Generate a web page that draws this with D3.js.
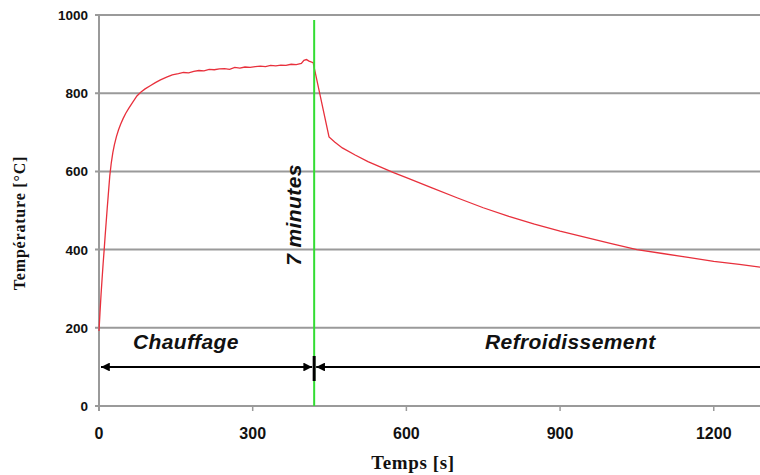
<!DOCTYPE html>
<html><head><meta charset="utf-8">
<script src="https://cdn.jsdelivr.net/npm/d3@7"></script>
<style>html,body{margin:0;padding:0;background:#fff;overflow:hidden}</style>
</head><body>
<svg id="c" width="760" height="475"></svg>
<script>
// Data (time in s, temperature in °C)
const timeValues = [0,2,4,6,8,10,12,14,16,18,21,24,27,30,34,38,42,47,52,58,65,74,82,90,100,110,120,132,143,155,165,175,185,195,205,215,225,235,245,255,265,275,285,295,305,315,325,335,345,355,365,375,385,395,400,405,410,418,
  449,460,475,500,525,550,575,600,650,700,750,800,850,900,950,1000,1050,1100,1150,1200,1250,1291];
const tempValues = [192,240,285,325,363,398,435,470,505,538,588,622,648,668,689,706,720,735,748,761,775,793,803,811,819,827,834,841,847,850,853,852,856,858,857,861,860,862,863,861,866,864,867,866,868,869,868,871,870,872,871,874,873,876,884,886,882,878,
  688,675,660,642,625,611,597,584,558,532,507,485,465,447,431,415,400,390,380,370,362,355];
const yTicks = [0,200,400,600,800,1000];
const xTicks = [0,300,600,900,1200];
const markerTime = 420;
const labels = {y:"Température [°C]", x:"Temps [s]", marker:"7 minutes", left:"Chauffage", right:"Refroidissement"};

const svg = d3.select("#c");
const x = d3.scaleLinear().domain([0,1300]).range([99, 99+1300*0.5123]);
const y = d3.scaleLinear().domain([0,1000]).range([406, 15]);

// grid lines
svg.append("g").selectAll("line").data(yTicks).join("line")
  .attr("x1",95).attr("x2",760).attr("y1",d=>y(d)).attr("y2",d=>y(d))
  .attr("stroke","#9a9a9a").attr("stroke-width",2);

// y axis line
svg.append("line").attr("x1",x(0)).attr("x2",x(0)).attr("y1",y(1000)).attr("y2",411)
  .attr("stroke","#9a9a9a").attr("stroke-width",2);

// x ticks
svg.append("g").selectAll("line").data(xTicks).join("line")
  .attr("x1",d=>x(d)).attr("x2",d=>x(d)).attr("y1",406).attr("y2",411)
  .attr("stroke","#9a9a9a").attr("stroke-width",1.5);

// y tick labels
svg.append("g").selectAll("text").data(yTicks).join("text")
  .attr("x",88).attr("y",d=>y(d)+5).attr("text-anchor","end")
  .attr("font-family","Liberation Sans, Arial, sans-serif").attr("font-weight","bold").attr("font-size",13.5)
  .attr("fill","#111").text(d=>d);

// x tick labels
svg.append("g").selectAll("text").data(xTicks).join("text")
  .attr("x",d=>x(d)).attr("y",439).attr("text-anchor","middle")
  .attr("font-family","Liberation Sans, Arial, sans-serif").attr("font-weight","bold").attr("font-size",16)
  .attr("fill","#111").text(d=>d);

// axis titles
svg.append("text").attr("transform","translate(25,223) rotate(-90)").attr("text-anchor","middle")
  .attr("font-family","Liberation Serif, Times New Roman, serif").attr("font-weight","bold").attr("font-size",16)
  .attr("letter-spacing",0.8)
  .attr("fill","#111").text(labels.y);
svg.append("text").attr("x",413).attr("y",469).attr("text-anchor","middle")
  .attr("font-family","Liberation Serif, Times New Roman, serif").attr("font-weight","bold").attr("font-size",19)
  .attr("letter-spacing",0.6)
  .attr("fill","#111").text(labels.x);

// curve
const pts = timeValues.map((t,i)=>[t,tempValues[i]]);
svg.append("path").datum(pts)
  .attr("d", d3.line().x(d=>x(d[0])).y(d=>y(d[1])))
  .attr("fill","none").attr("stroke","#e8303c").attr("stroke-width",1.3);

// marker line
svg.append("line").attr("x1",x(markerTime)).attr("x2",x(markerTime)).attr("y1",20).attr("y2",406)
  .attr("stroke","#33dd33").attr("stroke-width",2);

// marker label
svg.append("text").attr("transform",`translate(${x(markerTime)-13},215) rotate(-90)`).attr("text-anchor","middle")
  .attr("font-family","Liberation Sans, Arial, sans-serif").attr("font-weight","bold").attr("font-style","italic").attr("font-size",21)
  .attr("letter-spacing",0.4)
  .attr("fill","#111").text(labels.marker);

// arrows
const defs = svg.append("defs");
defs.append("marker").attr("id","ah").attr("viewBox","0 0 10 10").attr("refX",10).attr("refY",5)
  .attr("markerWidth",4).attr("markerHeight",4).attr("orient","auto-start-reverse")
  .append("path").attr("d","M0,0L10,5L0,10z").attr("fill","#000");
const ay = 367;
svg.append("line").attr("x1",x(0)+2).attr("x2",x(markerTime)-2).attr("y1",ay).attr("y2",ay)
  .attr("stroke","#000").attr("stroke-width",2.2).attr("marker-start","url(#ah)").attr("marker-end","url(#ah)");
svg.append("line").attr("x1",x(markerTime)+2).attr("x2",780).attr("y1",ay).attr("y2",ay)
  .attr("stroke","#000").attr("stroke-width",2.2).attr("marker-start","url(#ah)");
svg.append("line").attr("x1",x(markerTime)).attr("x2",x(markerTime)).attr("y1",356).attr("y2",381)
  .attr("stroke","#000").attr("stroke-width",3);

// phase labels
svg.append("text").attr("x",133).attr("y",349)
  .attr("font-family","Liberation Sans, Arial, sans-serif").attr("font-weight","bold").attr("font-style","italic").attr("font-size",21)
  .attr("letter-spacing",0.4)
  .attr("fill","#111").text(labels.left);
svg.append("text").attr("x",485).attr("y",349)
  .attr("font-family","Liberation Sans, Arial, sans-serif").attr("font-weight","bold").attr("font-style","italic").attr("font-size",21)
  .attr("letter-spacing",0.4)
  .attr("fill","#111").text(labels.right);
</script>
</body></html>
